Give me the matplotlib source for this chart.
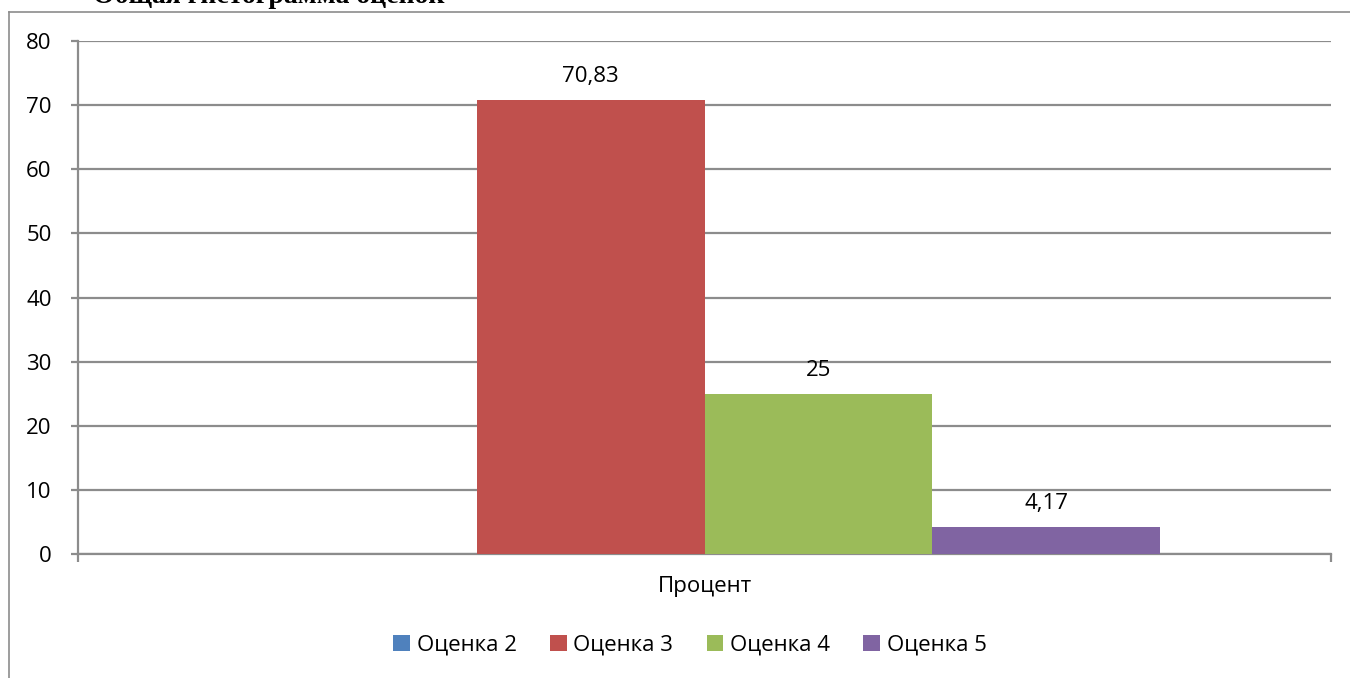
import matplotlib
matplotlib.use("Agg")
import matplotlib.pyplot as plt
from matplotlib.lines import Line2D
from matplotlib.patches import Patch

plt.rcParams["font.family"] = ["Open Sans", "DejaVu Sans"]

# Данные гистограммы (проценты по оценкам)
categories = ["Процент"]
series = ["Оценка 2", "Оценка 3", "Оценка 4", "Оценка 5"]
values = [0, 70.83, 25, 4.17]
colors = ["#4F81BD", "#C0504D", "#9BBB59", "#8064A2"]
yticks = [0, 10, 20, 30, 40, 50, 60, 70, 80]
title = "Общая гистограмма оценок"

GRID = "#8c8c8c"
W, H = 1350, 678

fig = plt.figure(figsize=(W / 100, H / 100), dpi=100)
ax = fig.add_axes([78 / W, 1 - 554 / H, (1331 - 78) / W, (554 - 41) / H])

# рамка области диаграммы
fig.add_artist(Line2D([9 / W, 9 / W], [0, 1 - 12 / H], color=GRID, lw=1.2))
fig.add_artist(Line2D([9 / W, 1], [1 - 12 / H, 1 - 12 / H], color=GRID, lw=1.2))

# столбцы: ширина зазора 150 %
w = 1 / (len(series) + 1.5)
for i, (name, v, c) in enumerate(zip(series, values, colors)):
    x = (i - (len(series) - 1) / 2) * w
    ax.bar(x, v, width=w, color=c, zorder=3, label=name)
    if v:
        ax.text(x, v + 2.0, f"{v:g}".replace(".", ","), ha="center",
                va="bottom", fontsize=16, color="#000000")

ax.set_xlim(-0.5, 0.5)
ax.set_ylim(0, 80)
ax.set_yticks(yticks)
ax.set_yticklabels([str(t) for t in yticks], fontsize=16)
ax.grid(axis="y", color=GRID, lw=1.6, zorder=0)
ax.set_xticks([0])
ax.set_xticklabels(categories, fontsize=16)
ax.set_xticks([-0.5, 0.5], minor=True)
ax.tick_params(axis="x", which="major", length=0, pad=16)
ax.tick_params(axis="x", which="minor", length=6, width=1.6, color=GRID)
ax.tick_params(axis="y", length=5, width=1.6, color=GRID, pad=14)

for s in ["top", "right"]:
    ax.spines[s].set_visible(False)
for s in ["left", "bottom"]:
    ax.spines[s].set_color(GRID)
    ax.spines[s].set_linewidth(1.6)

fig.text(269 / W, 1 - 3 / H, title, ha="center", va="baseline",
         fontsize=20, fontweight="bold", family="Liberation Serif")

handles = [Patch(facecolor=c, edgecolor="none") for c in colors]
fig.legend(handles, series, loc="center", bbox_to_anchor=(690 / W, 1 - 645 / H),
           ncol=4, frameon=False, fontsize=16, handlelength=0.75,
           handleheight=0.75, handletextpad=0.3, columnspacing=1.5)

fig.savefig("out.png", dpi=100)
